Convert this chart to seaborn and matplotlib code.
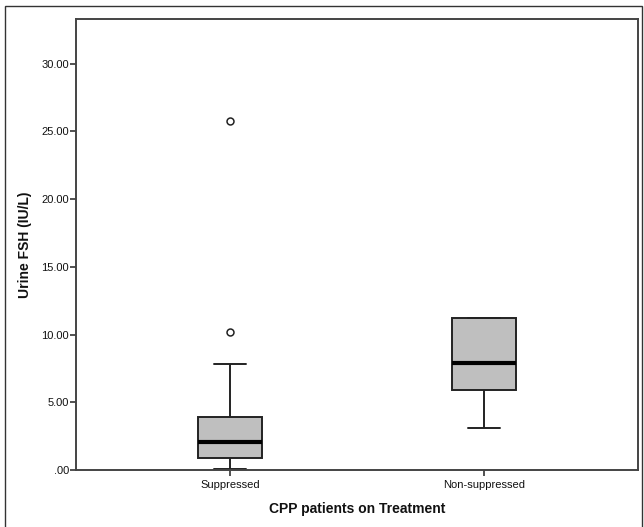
import matplotlib
matplotlib.use("Agg")
import matplotlib.pyplot as plt
from matplotlib.patches import Rectangle
import seaborn as sns
import pandas as pd

# Data
categories = ["Suppressed", "Non-suppressed"]
suppressed_fsh = [0.05, 0.30, 0.60, 0.86, 1.20, 1.70, 2.09, 2.60, 3.20, 3.89, 7.82, 10.16, 25.80]
nonsuppressed_fsh = [3.12, 5.90, 7.92, 11.19, 11.19]
y_ticks = [0, 5, 10, 15, 20, 25, 30]
y_tick_labels = [".00", "5.00", "10.00", "15.00", "20.00", "25.00", "30.00"]

df = pd.DataFrame({
    "group": [categories[0]] * len(suppressed_fsh) + [categories[1]] * len(nonsuppressed_fsh),
    "value": suppressed_fsh + nonsuppressed_fsh,
})

sns.set_style("white")
plt.rcParams["font.family"] = ["Liberation Sans", "DejaVu Sans"]

fig = plt.figure(figsize=(6.44, 5.27), dpi=100)
ax = fig.add_axes([76 / 644, 1 - 470 / 527, (638 - 76) / 644, (470 - 19) / 527])

line_col = "#222222"
sns.boxplot(
    data=df, x="group", y="value", order=categories, ax=ax,
    color="#bfbfbf", linecolor=line_col, linewidth=1.4, width=0.25,
    fliersize=5,
    medianprops=dict(color="black", linewidth=3),
    flierprops=dict(marker="o", markerfacecolor="white", markeredgecolor=line_col, markeredgewidth=1.1),
)

ax.set_xlim(-0.606, 1.606)
ax.set_ylim(0, 33.3)
ax.set_yticks(y_ticks)
ax.set_yticklabels(y_tick_labels, fontsize=8)
ax.tick_params(axis="x", bottom=True, labelsize=8, direction="out", length=4, width=1.2, color="#333333", pad=3)
ax.tick_params(axis="y", left=True, direction="out", length=4, width=1.2, color="#333333", pad=1)
for lab in ax.get_xticklabels() + ax.get_yticklabels():
    lab.set_color("#111111")

for s in ax.spines.values():
    s.set_visible(True)
    s.set_color("#444444")
    s.set_linewidth(1.4)

ax.set_xlabel("CPP patients on Treatment", fontsize=10, fontweight="bold", color="#111111")
ax.set_ylabel("Urine FSH (IU/L)", fontsize=10, fontweight="bold", color="#111111")
ax.xaxis.set_label_coords(0.5, (470 - 509) / 451, transform=ax.transAxes)
ax.yaxis.set_label_coords((25 - 76) / 562, 0.5, transform=ax.transAxes)
ax.xaxis.label.set_va("center")
ax.yaxis.label.set_va("center")

# outer frame
fig.patches.append(Rectangle((5 / 644, -0.05), (641.5 - 5) / 644, 1.05 - 6 / 527,
                             transform=fig.transFigure, fill=False,
                             edgecolor="#333333", linewidth=1.0, clip_on=False))

fig.savefig("out.png", dpi=100)
